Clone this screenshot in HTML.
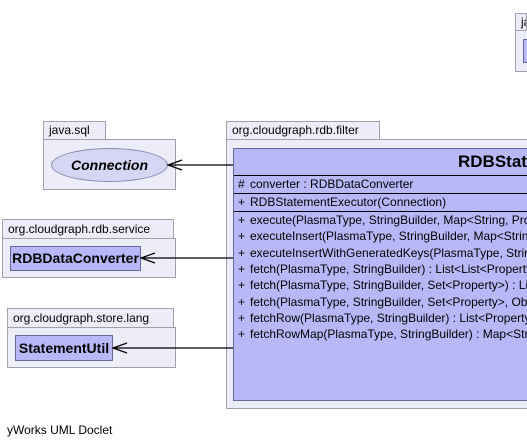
<!DOCTYPE html>
<html><head><meta charset="utf-8"><style>
html,body{margin:0;padding:0;overflow:hidden;}
body{width:527px;height:446px;background:#fff;font-family:"Liberation Sans",Arial,sans-serif;}
#w{position:relative;width:527px;height:446px;overflow:hidden;}
.a{position:absolute;box-sizing:border-box;}
.tab{background:#ededfa;border:1px solid #a0a0b0;font-size:12px;color:#000;padding-left:5px;line-height:17px;}
.pk{background:#ededfa;border:1px solid #a0a0b0;}
.cls{background:#b8b8f8;border:1px solid #6868a0;font-weight:bold;font-size:14px;text-align:center;}
.m{position:absolute;left:4px;font-size:12px;white-space:nowrap;}
.m span{display:inline-block;width:12px;}
</style></head><body><div id="w">
<div class="a tab" style="left:515px;top:13px;width:12px;height:18px;overflow:hidden;">ja</div>
<div class="a pk" style="left:515px;top:30px;width:12px;height:42px;border-right:none;"></div>
<div class="a" style="left:523px;top:39px;width:4px;height:24px;background:#b8b8f8;border:1px solid #6868a0;border-right:none;"></div>

<div class="a tab" style="left:43px;top:121px;width:63px;height:19px;">java.sql</div>
<div class="a pk" style="left:43px;top:139px;width:133px;height:51px;"></div>
<div class="a" style="left:51px;top:148px;width:117px;height:34px;border-radius:50%;background:#d6d6f4;border:1px solid #8a8ab0;font-weight:bold;font-style:italic;font-size:14px;text-align:center;line-height:32px;">Connection</div>

<div class="a tab" style="left:2px;top:219px;width:172px;height:20px;line-height:19px;">org.cloudgraph.rdb.service</div>
<div class="a pk" style="left:2px;top:238px;width:174px;height:40px;"></div>
<div class="a cls" style="left:10px;top:246px;width:131px;height:25px;line-height:23px;">RDBDataConverter</div>

<div class="a tab" style="left:7px;top:308px;width:167px;height:20px;line-height:19px;">org.cloudgraph.store.lang</div>
<div class="a pk" style="left:7px;top:327px;width:169px;height:41px;"></div>
<div class="a cls" style="left:15px;top:335px;width:98px;height:26px;line-height:24px;">StatementUtil</div>

<div class="a tab" style="left:226px;top:121px;width:154px;height:19px;">org.cloudgraph.rdb.filter</div>
<div class="a pk" style="left:226px;top:139px;width:301px;height:270px;border-right:none;"></div>
<div class="a" style="left:233px;top:148px;width:294px;height:253px;background:#b8b8f8;border:1px solid #6868a0;border-right:none;overflow:hidden;">
<div class="a" style="left:224px;top:1px;font-weight:bold;font-size:17px;line-height:24px;white-space:nowrap;">RDBStatementExecutor</div>
<div class="a" style="left:0;top:26px;width:294px;height:1px;background:#000;"></div>
<div class="a" style="left:0;top:44px;width:294px;height:1px;background:#000;"></div>
<div class="a" style="left:0;top:62px;width:294px;height:1px;background:#000;"></div>
<div class="m" style="top:28px;"><span>#</span>converter : RDBDataConverter</div>
<div class="m" style="top:46px;"><span>+</span>RDBStatementExecutor(Connection)</div>
<div class="m" style="top:64px;"><span>+</span>execute(PlasmaType, StringBuilder, Map&lt;String, PropertyPair&gt;)</div>
<div class="m" style="top:80px;"><span>+</span>executeInsert(PlasmaType, StringBuilder, Map&lt;String, PropertyPair&gt;)</div>
<div class="m" style="top:97px;"><span>+</span>executeInsertWithGeneratedKeys(PlasmaType, StringBuilder)</div>
<div class="m" style="top:113px;"><span>+</span>fetch(PlasmaType, StringBuilder) : List&lt;List&lt;PropertyPair&gt;&gt;</div>
<div class="m" style="top:129px;"><span>+</span>fetch(PlasmaType, StringBuilder, Set&lt;Property&gt;) : List</div>
<div class="m" style="top:146px;"><span>+</span>fetch(PlasmaType, StringBuilder, Set&lt;Property&gt;, Object[])</div>
<div class="m" style="top:162px;"><span>+</span>fetchRow(PlasmaType, StringBuilder) : List&lt;PropertyPair&gt;</div>
<div class="m" style="top:178px;"><span>+</span>fetchRowMap(PlasmaType, StringBuilder) : Map&lt;String, PropertyPair&gt;</div>
</div>

<svg class="a" style="left:0;top:0" width="527" height="446">
<g stroke="#000" stroke-width="1.2" fill="none">
<line x1="168" y1="165" x2="233" y2="165"/>
<polyline points="182,160 168,165 182,170"/>
<line x1="141" y1="258" x2="233" y2="258"/>
<polyline points="155,253 141,258 155,263"/>
<line x1="113" y1="348" x2="233" y2="348"/>
<polyline points="127,343 113,348 127,353"/>
</g>
</svg>
<div class="a" style="left:7px;top:423px;font-size:12px;">yWorks UML Doclet</div>
</div></body></html>
